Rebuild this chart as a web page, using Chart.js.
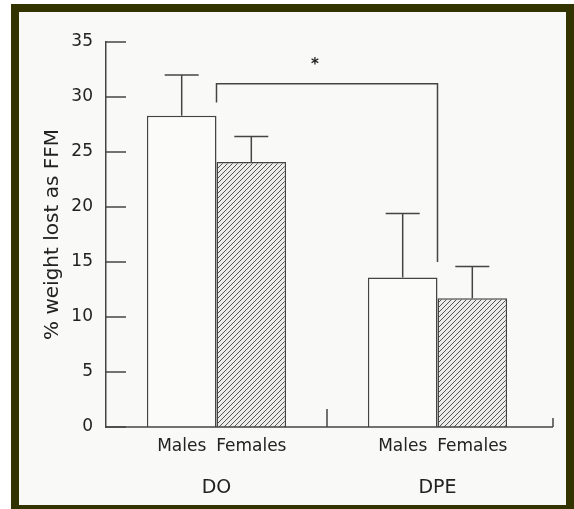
<!DOCTYPE html>
<html>
<head>
<meta charset="utf-8">
<script src="https://cdn.jsdelivr.net/npm/chart.js@4/dist/chart.umd.min.js"></script>
<style>
  html, body { margin: 0; padding: 0; background: #ffffff; overflow: hidden; }
  #frame {
    position: absolute; left: 11px; top: 4px;
    width: 547px; height: 493px;
    border: 8px solid #333300;
    background: #f9f9f7;
  }
  #chart { display: block; }
</style>
</head>
<body>
<div id="frame"><canvas id="chart" width="547" height="493"></canvas></div>
<script>
'use strict';

let groups = ['DO', 'DPE'];
let sexes = ['Males', 'Females'];
let maleValues = [28.3, 13.6];
let femaleValues = [24.1, 11.7];
let maleErr = [3.7, 5.8];
let femaleErr = [2.3, 2.9];
let yTicks = [0, 5, 10, 15, 20, 25, 30, 35];
// significance bracket between DO and DPE males
let bracketLevel = 31.2;
let bracketLeftEnd = 29.5;
let bracketRightEnd = 15.0;
let starLevel = 33.2;

let ink = '#222222';
let lineColor = '#444444';
let fontFamily = '"DejaVu Sans", Arial, sans-serif';

function hatchPattern() {
  let c = document.createElement('canvas');
  c.width = 5;
  c.height = 5;
  let g = c.getContext('2d');
  g.fillStyle = '#ececea';
  g.fillRect(0, 0, 5, 5);
  g.strokeStyle = '#555555';
  g.lineWidth = 1;
  g.beginPath();
  g.moveTo(-1, 6); g.lineTo(6, -1);
  g.moveTo(-1, 1); g.lineTo(1, -1);
  g.moveTo(4, 6); g.lineTo(6, 4);
  g.stroke();
  return g.createPattern(c, 'repeat');
}

function line(ctx, x1, y1, x2, y2) {
  ctx.beginPath();
  ctx.moveTo(x1, y1);
  ctx.lineTo(x2, y2);
  ctx.stroke();
}

let decor = {
  id: 'decor',
  afterDatasetsDraw(chart) {
    let ctx = chart.ctx;
    let x = chart.scales.x;
    let y = chart.scales.y;
    let area = chart.chartArea;
    let metas = [chart.getDatasetMeta(0), chart.getDatasetMeta(1)];
    let vals = [maleValues, femaleValues];
    let errs = [maleErr, femaleErr];

    ctx.save();
    ctx.strokeStyle = lineColor;
    ctx.lineWidth = 1.5;

    // error bars, upper half only
    metas.forEach(function (meta, d) {
      meta.data.forEach(function (bar, i) {
        let top = y.getPixelForValue(vals[d][i] + errs[d][i]);
        line(ctx, bar.x, bar.y, bar.x, top);
        line(ctx, bar.x - 17, top, bar.x + 17, top);
      });
    });

    // ticks pointing into the plot
    yTicks.forEach(function (v) {
      let py = y.getPixelForValue(v);
      line(ctx, area.left, py, area.left + 20, py);
    });

    // baseline runs a little past the last bar and turns up
    let base = y.getPixelForValue(0);
    line(ctx, area.left, base, area.right + 5, base);
    line(ctx, area.right + 5, base, area.right + 5, base - 9);

    // divider between the groups
    let mid = (x.getPixelForValue(0) + x.getPixelForValue(1)) / 2;
    line(ctx, mid, base, mid, base - 18);

    // bracket
    let bx1 = x.getPixelForValue(0);
    let bx2 = x.getPixelForValue(1);
    let by = y.getPixelForValue(bracketLevel);
    ctx.beginPath();
    ctx.moveTo(bx1, y.getPixelForValue(bracketLeftEnd));
    ctx.lineTo(bx1, by);
    ctx.lineTo(bx2, by);
    ctx.lineTo(bx2, y.getPixelForValue(bracketRightEnd));
    ctx.stroke();

    ctx.fillStyle = ink;
    ctx.font = 'bold 15px ' + fontFamily;
    ctx.textAlign = 'center';
    ctx.textBaseline = 'middle';
    ctx.fillText('*', mid - 12, y.getPixelForValue(starLevel) + 3);

    // sex labels under each bar
    ctx.font = '17px ' + fontFamily;
    metas.forEach(function (meta, d) {
      meta.data.forEach(function (bar) {
        ctx.fillText(sexes[d], bar.x, base + 20);
      });
    });
    ctx.restore();
  }
};

let ctx = document.getElementById('chart').getContext('2d');
let myChart = new Chart(ctx, {
  type: 'bar',
  data: {
    labels: groups,
    datasets: [{
      label: sexes[0],
      data: maleValues,
      backgroundColor: '#fbfbf9',
      borderColor: lineColor,
      borderWidth: 1.5,
      borderSkipped: 'bottom'
    }, {
      label: sexes[1],
      data: femaleValues,
      backgroundColor: hatchPattern(),
      borderColor: lineColor,
      borderWidth: 1.5,
      borderSkipped: 'bottom'
    }]
  },
  plugins: [decor],
  options: {
    responsive: false,
    animation: false,
    events: [],
    layout: { padding: { top: 30, right: 18, left: 0, bottom: 0 } },
    plugins: {
      legend: { display: false },
      tooltip: { enabled: false }
    },
    datasets: {
      bar: { categoryPercentage: 0.63, barPercentage: 1 }
    },
    scales: {
      x: {
        grid: { display: false },
        border: { display: false },
        ticks: {
          color: ink,
          font: { family: fontFamily, size: 19 },
          padding: 42,
          maxRotation: 0
        },
        afterFit(scale) { scale.height = 78; }
      },
      y: {
        min: 0,
        max: 35,
        afterBuildTicks(scale) {
          scale.ticks = yTicks.map(function (v) { return { value: v }; });
        },
        grid: { display: false, drawTicks: false },
        border: { display: true, color: lineColor, width: 1.5 },
        ticks: {
          color: ink,
          font: { family: fontFamily, size: 17 },
          padding: 13
        },
        title: {
          display: true,
          text: '% weight lost as FFM',
          color: ink,
          font: { family: fontFamily, size: 20 },
          padding: { top: 22, bottom: 0 }
        },
        afterFit(scale) { scale.width = 87; }
      }
    }
  }
});
</script>
</body>
</html>
